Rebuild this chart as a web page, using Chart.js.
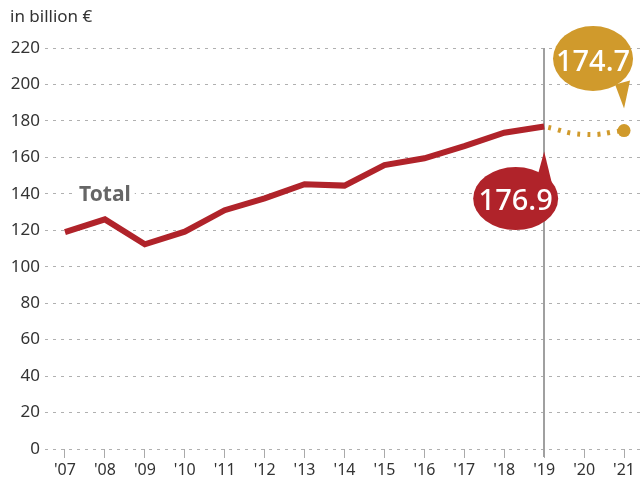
<!DOCTYPE html>
<html>
<head>
<meta charset="utf-8">
<script src="https://cdn.jsdelivr.net/npm/chart.js@4"></script>
<style>
  html, body { margin: 0; padding: 0; background: #fff; overflow: hidden; }
  #wrap { width: 644px; height: 483px; position: relative; }
</style>
</head>
<body>
<div id="wrap"><canvas id="chart"></canvas></div>
<script>
// --- data --- //
const years = ["'07", "'08", "'09", "'10", "'11", "'12", "'13", "'14", "'15", "'16", "'17", "'18", "'19", "'20", "'21"];
const totalValues = [119, 126, 112.3, 119.2, 131, 137.5, 145.3, 144.5, 155.8, 159.5, 166.2, 173.5, 176.9, null, null];
const forecastValues = [null, null, null, null, null, null, null, null, null, null, null, null, 176.9, 172.6, 174.7];
const yTicks = [0, 20, 40, 60, 80, 100, 120, 140, 160, 180, 200, 220];

const RED = '#B0232A';
const GOLD = '#D09A2C';
const FONT = '"Noto Sans", "Open Sans", sans-serif';

// bubble with a pointer, drawn relative to a data point
function drawBubble(ctx, px, py, tipDy, cx, cy, rx, ry, base, color, text, baseline) {
    ctx.save();
    ctx.fillStyle = color;
    ctx.beginPath();
    ctx.moveTo(px, py + tipDy);
    ctx.lineTo(base[0][0], base[0][1]);
    ctx.lineTo(base[1][0], base[1][1]);
    ctx.closePath();
    ctx.fill();
    ctx.beginPath();
    ctx.ellipse(cx, cy, rx, ry, 0, 0, Math.PI * 2);
    ctx.fill();
    ctx.fillStyle = '#fff';
    ctx.font = '500 29px ' + FONT;
    ctx.textAlign = 'center';
    ctx.textBaseline = 'alphabetic';
    ctx.fillText(text, cx, baseline);
    ctx.restore();
}

const extras = {
    id: 'extras',
    beforeDatasetsDraw(chart) {
        const { ctx, chartArea, scales: { x, y } } = chart;
        ctx.save();
        // title
        ctx.fillStyle = '#333';
        ctx.font = '17px ' + FONT;
        ctx.textAlign = 'left';
        ctx.textBaseline = 'middle';
        ctx.fillText('in billion €', 10, 17);

        // vertical separator at '19
        const xs = Math.round(x.getPixelForValue(12));
        ctx.strokeStyle = '#a0a0a0';
        ctx.lineWidth = 2;
        ctx.beginPath();
        ctx.moveTo(xs, chartArea.top);
        ctx.lineTo(xs, chartArea.bottom + 8);
        ctx.stroke();

        // "Total" label on the 140 gridline
        const tx = x.getPixelForValue(1);
        const ty = y.getPixelForValue(140);
        ctx.font = 'bold 21px ' + FONT;
        ctx.textAlign = 'center';
        const w = ctx.measureText('Total').width;
        ctx.fillStyle = '#fff';
        ctx.fillRect(tx - w / 2 - 4, ty - 12, w + 8, 24);
        ctx.fillStyle = '#666';
        ctx.fillText('Total', tx, ty + 1);
        ctx.restore();
    },
    afterDatasetsDraw(chart) {
        const { ctx, scales: { x, y } } = chart;
        // red bubble for '19
        const rx = x.getPixelForValue(12);
        const ry = y.getPixelForValue(totalValues[12]);
        drawBubble(ctx, rx, ry, 25, rx - 28.5, ry + 72, 42.5, 31.5,
            [[rx - 9, ry + 58], [rx + 9, ry + 62]], RED, '176.9', ry + 83);
        // gold bubble for '21
        const gx = x.getPixelForValue(14);
        const gy = y.getPixelForValue(forecastValues[14]);
        drawBubble(ctx, gx, gy, -22, gx - 31, gy - 72, 40, 32.5,
            [[gx - 9, gy - 46], [gx + 6, gy - 50]], GOLD, '174.7', gy - 60);
    }
};

new Chart(document.getElementById('chart'), {
    type: 'line',
    data: {
        labels: years,
        datasets: [
            {
                data: totalValues,
                borderColor: RED,
                borderWidth: 6,
                borderJoinStyle: 'miter',
                pointRadius: 0,
                tension: 0,
                spanGaps: false
            },
            {
                data: forecastValues,
                borderColor: GOLD,
                borderWidth: 5,
                borderDash: [3, 7],
                borderDashOffset: -4,
                tension: 0.5,
                pointRadius: forecastValues.map((v, i) => i === 14 ? 6.5 : 0),
                pointBackgroundColor: GOLD,
                pointBorderWidth: 0
            }
        ]
    },
    options: {
        responsive: true,
        maintainAspectRatio: false,
        animation: false,
        events: [],
        layout: { autoPadding: false, padding: { top: 48, left: 0, right: 0, bottom: 0 } },
        plugins: { legend: { display: false }, tooltip: { enabled: false } },
        scales: {
            x: {
                offset: true,
                afterFit(scale) {
                    scale.height = 34;
                    scale.paddingLeft = 0;
                    scale.paddingRight = 0;
                },
                grid: { offset: false, drawOnChartArea: false, drawTicks: true, tickLength: 9, color: '#aaa', lineWidth: 1 },
                border: { display: false },
                ticks: { color: '#333', font: { family: FONT, size: 16 }, padding: 3, maxRotation: 0, autoSkip: false }
            },
            y: {
                min: 0,
                max: 220,
                afterFit(scale) {
                    scale.width = 45;
                    scale.paddingTop = 0;
                    scale.paddingBottom = 0;
                },
                afterBuildTicks(scale) { scale.ticks = yTicks.map(v => ({ value: v })); },
                grid: { color: '#b0b0b0', lineWidth: 1, drawTicks: false },
                border: { display: false, dash: [3, 5] },
                ticks: { color: '#333', font: { family: FONT, size: 17 }, padding: 5 }
            }
        }
    },
    plugins: [extras]
});
</script>
</body>
</html>
